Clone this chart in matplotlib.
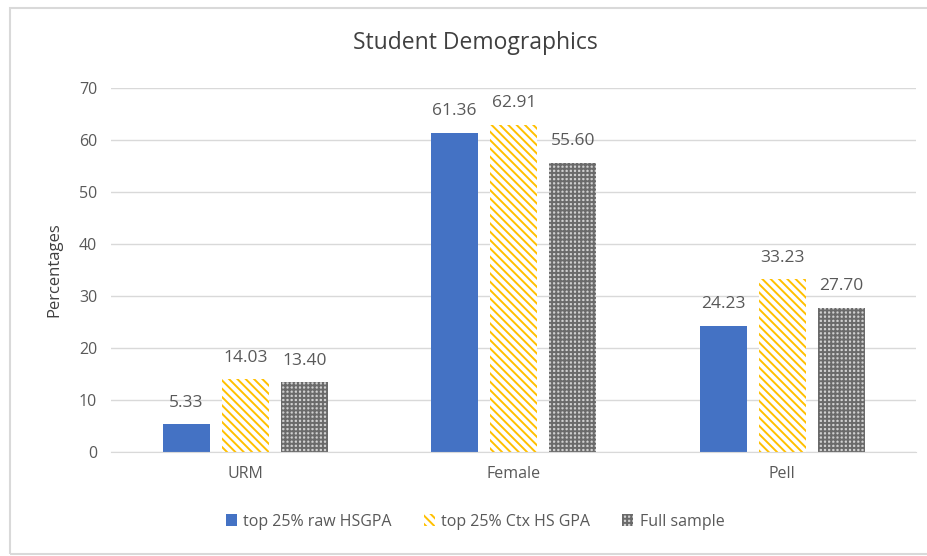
import numpy as np
import matplotlib.pyplot as plt
from matplotlib.patches import Rectangle

categories = ["URM", "Female", "Pell"]
raw_hsgpa = [5.33, 61.36, 24.23]
ctx_hsgpa = [14.03, 62.91, 33.23]
full_sample = [13.40, 55.60, 27.70]
labels = ["top 25% raw HSGPA", "top 25% Ctx HS GPA", "Full sample"]

plt.rcParams['font.family'] = ['Open Sans', 'DejaVu Sans']
plt.rcParams['hatch.linewidth'] = 1.4

fig = plt.figure(figsize=(9.28, 5.56), dpi=100)
ax = fig.add_axes([0.1196, 0.187, 0.868, 0.655])

# light grey frame around the chart
fig.patches.append(Rectangle((10 / 928, 2 / 556), 930 / 928, 546 / 556,
                             transform=fig.transFigure, fill=False,
                             edgecolor='#d9d9d9', linewidth=1.5))

x = np.arange(len(categories))
w = 0.176
step = 0.22
text_col = '#595959'

b1 = ax.bar(x - step, raw_hsgpa, w, color='#4472C4', label=labels[0])
b2 = ax.bar(x, ctx_hsgpa, w, color='white', edgecolor='#FFC000',
            hatch='\\\\\\\\', linewidth=0, label=labels[1])
b3 = ax.bar(x + step, full_sample, w, color='#d0d0d0', edgecolor='#6a6a6a',
            hatch='++++', linewidth=0, label=labels[2])

for bars, vals in [(b1, raw_hsgpa), (b2, ctx_hsgpa), (b3, full_sample)]:
    for rect, v in zip(bars, vals):
        ax.text(rect.get_x() + rect.get_width() / 2, v + 2.6, f"{v:.2f}",
                ha='center', va='bottom', fontsize=12.5, color=text_col)

ax.set_xlim(-0.5, 2.5)
ax.set_ylim(0, 70)
ax.set_yticks(range(0, 71, 10))
ax.set_xticks(x)
ax.set_xticklabels(categories)
ax.grid(axis='y', color='#d9d9d9', linewidth=1)
ax.set_axisbelow(True)
for s in ['top', 'right', 'left']:
    ax.spines[s].set_visible(False)
ax.spines['bottom'].set_color('#d9d9d9')
ax.tick_params(axis='both', length=0, labelsize=11.5, colors=text_col, pad=10)
ax.set_ylabel("Percentages", fontsize=12, color='#404040', labelpad=12)
fig.text(0.512, 0.922, "Student Demographics", ha='center', va='center',
         fontsize=16.5, color='#404040')

fig.legend(handles=[b1, b2, b3], loc='center', bbox_to_anchor=(0.512, 0.062),
           ncol=3, frameon=False, fontsize=11.5, labelcolor=text_col,
           handlelength=0.7, handleheight=0.7, columnspacing=2.0,
           handletextpad=0.4)

fig.savefig("out.png", dpi=100)
